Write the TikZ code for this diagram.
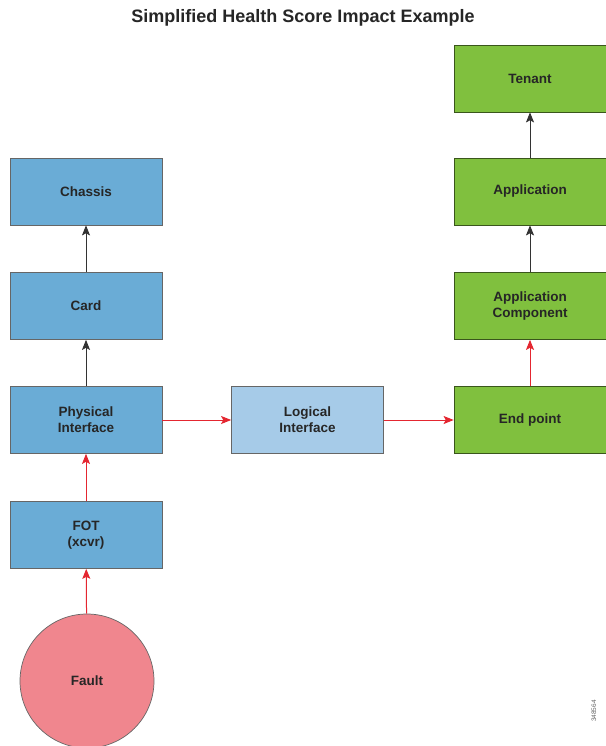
\documentclass[tikz,border=0pt]{standalone}
\usepackage{fontspec}
\setmainfont{Liberation Sans}
\usetikzlibrary{arrows.meta}

\definecolor{physblue}{RGB}{106,172,214}
\definecolor{logblue}{RGB}{166,203,232}
\definecolor{appgreen}{RGB}{128,192,62}
\definecolor{faultred}{RGB}{240,134,142}
\definecolor{linkred}{RGB}{228,38,48}

\tikzset{
  box/.style={draw=black!60, line width=0.7pt, minimum width=152pt, minimum height=67pt,
    inner sep=0pt, align=center, text=black!85,
    font=\fontsize{13.5}{16}\selectfont\bfseries},
  blue box/.style={box, fill=physblue},
  green box/.style={box, fill=appgreen, draw=black!55!appgreen},
  up/.style={-{Stealth[length=10pt,width=8pt,inset=2pt]}, line width=1pt, black!80},
  hot/.style={up, linkred}
}

\begin{document}
\begin{tikzpicture}[x=1pt,y=-1pt]
\useasboundingbox (0,0) rectangle (605,746);

\node[font=\fontsize{18}{20}\selectfont\bfseries, text=black!85] (title) at (303,18) {Simplified Health Score Impact Example};

% left column
\node[blue box] (chassis) at (86,191.5) {Chassis};
\node[blue box] (card) at (86,306) {Card};
\node[blue box] (phys) at (86,420) {Physical\\Interface};
\node[blue box] (fot) at (86,535) {FOT\\(xcvr)};
\node[circle, draw=black!60, line width=0.7pt, fill=faultred, minimum size=134pt, inner sep=0pt,
  text=black!85, font=\fontsize{13.5}{16}\selectfont\bfseries] (fault) at (87,681) {Fault};

% middle
\node[blue box, fill=logblue] (logical) at (307.5,420) {Logical\\Interface};

% right column
\node[green box] (tenant) at (530,78.5) {Tenant};
\node[green box] (app) at (530,191.5) {Application};
\node[green box] (appcomp) at (530,306) {Application\\Component};
\node[green box] (endpoint) at (530,420) {End point};

\draw[hot] (fault) -- (fot);
\draw[hot] (fot) -- (phys);
\draw[up] (phys) -- (card);
\draw[up] (card) -- (chassis);
\draw[hot] (phys) -- (logical);
\draw[hot] (logical) -- (endpoint);
\draw[hot] (endpoint) -- (appcomp);
\draw[up] (appcomp) -- (app);
\draw[up] (app) -- (tenant);

\node[rotate=90, font=\fontsize{6.5}{7}\selectfont, text=black!60] (ref) at (594,711) {348564};
\end{tikzpicture}
\end{document}
